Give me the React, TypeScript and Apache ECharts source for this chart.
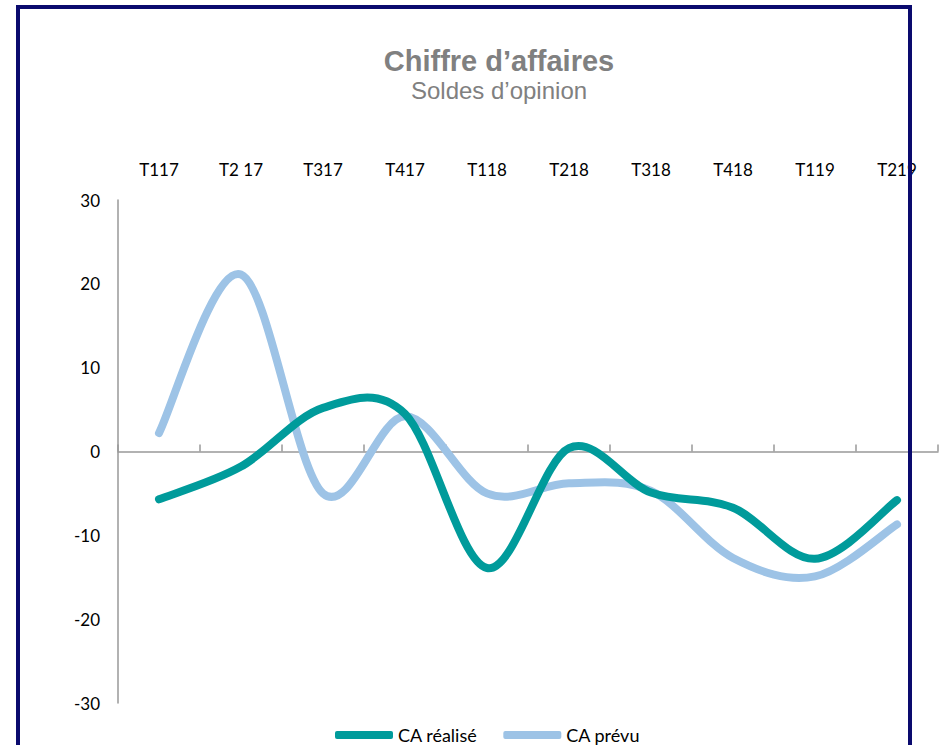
import React, { useEffect, useRef } from "react";
import * as echarts from "echarts";

const categories = ["T117", "T2 17", "T317", "T417", "T118", "T218", "T318", "T418", "T119", "T219"];
const caRealise = [-5.7, -1.8, 5.2, 4.5, -13.9, 0.4, -4.9, -6.7, -12.8, -5.8];
const caPrevu = [2.2, 21.1, -5, 4.2, -5, -3.8, -4.7, -12.7, -14.9, -8.7];
const yTicks = { min: -30, max: 30, interval: 10 };

const TEAL = "#009b9b";
const LIGHT = "#9dc3e6";
const FONT = "Lato, Open Sans, sans-serif";
const ARIAL = "Liberation Sans, Arial, Helvetica, sans-serif";

function smoothSeries(name: string, values: number[], color: string, z: number) {
  return {
    name,
    type: "custom",
    xAxisIndex: 0,
    yAxisIndex: 0,
    z,
    itemStyle: { color },
    encode: { x: 0, y: 1 },
    data: values.map((v, i) => [i, v]),
    renderItem: (params: any, api: any) => {
      if (params.dataIndex !== 0) return { type: "group", children: [] };
      const pts = values.map((v, i) => api.coord([i, v]));
      const n = pts.length;
      const t = 1 / 6;
      let d = `M${pts[0][0]},${pts[0][1]}`;
      for (let i = 0; i < n - 1; i++) {
        const p0 = pts[Math.max(0, i - 1)];
        const p1 = pts[i];
        const p2 = pts[i + 1];
        const p3 = pts[Math.min(n - 1, i + 2)];
        const c1x = p1[0] + (p2[0] - p0[0]) * t;
        const c1y = p1[1] + (p2[1] - p0[1]) * t;
        const c2x = p2[0] - (p3[0] - p1[0]) * t;
        const c2y = p2[1] - (p3[1] - p1[1]) * t;
        d += ` C${c1x},${c1y} ${c2x},${c2y} ${p2[0]},${p2[1]}`;
      }
      return {
        type: "path",
        shape: { pathData: d },
        style: { fill: "none", stroke: color, lineWidth: 8, lineCap: "round", lineJoin: "round" },
      };
    },
  };
}

export default function App() {
  const ref = useRef<HTMLDivElement>(null);
  useEffect(() => {
    document.body.style.margin = "0";
    const chart = echarts.init(ref.current!, undefined, { renderer: "svg" });
    chart.setOption({
      animation: false,
      backgroundColor: "#ffffff",
      title: {
        text: "Chiffre d\u2019affaires",
        subtext: "Soldes d\u2019opinion",
        left: 494,
        textAlign: "center",
        top: 41,
        itemGap: 3,
        textStyle: { fontFamily: ARIAL, fontWeight: "bold", fontSize: 29, color: "#808080" },
        subtextStyle: { fontFamily: ARIAL, fontSize: 24, color: "#808080" },
      },
      graphic: [
        {
          type: "rect",
          shape: { x: 18, y: 7, width: 892, height: 760 },
          style: { fill: "none", stroke: "#0a0a6e", lineWidth: 4 },
          z: 100,
        },
      ],
      legend: {
        left: 330,
        top: 721,
        itemWidth: 58,
        itemHeight: 8,
        itemGap: 26,
        icon: "roundRect",
        textStyle: { fontFamily: FONT, fontSize: 18, color: "#000" },
        data: ["CA réalisé", "CA prévu"],
      },
      grid: { left: 118, right: 4, top: 200, bottom: 42, containLabel: false },
      xAxis: [
        {
          type: "category",
          data: categories,
          position: "top",
          boundaryGap: true,
          axisLine: { show: false, onZero: false },
          axisTick: { show: false },
          axisLabel: { margin: 22, fontFamily: FONT, fontSize: 17, color: "#000", interval: 0 },
        },
        {
          type: "category",
          data: categories,
          position: "bottom",
          boundaryGap: true,
          axisLine: { show: true, onZero: true, lineStyle: { color: "#999", width: 1.5 } },
          axisTick: { show: true, inside: true, length: 7, lineStyle: { color: "#999", width: 1.5 } },
          axisLabel: { show: false },
        },
      ],
      yAxis: {
        type: "value",
        min: yTicks.min,
        max: yTicks.max,
        interval: yTicks.interval,
        axisLine: { show: true, lineStyle: { color: "#999", width: 1.5 } },
        axisTick: { show: false },
        splitLine: { show: false },
        axisLabel: { margin: 18, fontFamily: FONT, fontSize: 17, color: "#000" },
      },
      series: [
        smoothSeries("CA réalisé", caRealise, TEAL, 3),
        smoothSeries("CA prévu", caPrevu, LIGHT, 2),
      ],
    });
    return () => chart.dispose();
  }, []);
  return <div ref={ref} style={{ position: "absolute", left: 0, top: 0, width: 942, height: 745 }} />;
}
